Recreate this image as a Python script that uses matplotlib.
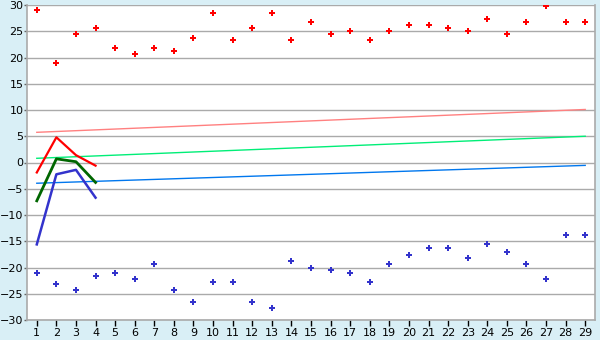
import numpy as np
import matplotlib.pyplot as plt

x = np.arange(1, 30)
x_labels = [str(i) for i in x]

upper_pts = [29.0, 18.9, 24.4, 25.6, 21.75, 20.6, 21.75, 21.2, 23.8,
             28.4, 23.3, 25.6, 28.4, 23.3, 26.7, 24.4, 25.0, 23.3, 25.0,
             26.1, 26.1, 25.6, 25.0, 27.3, 24.4, 26.7, 29.9, 26.7, 26.7]
lower_pts = [-21.1, -23.2, -24.35, -21.7, -21.1, -22.25, -19.4, -24.35, -26.6,
             -22.8, -22.8, -26.6, -27.8, -18.8, -20.0, -20.5, -21.1, -22.8, -19.4,
             -17.7, -16.2, -16.2, -18.25, -15.6, -17.1, -19.4, -22.25, -13.9, -13.9]

# first four periods
short_x = [1, 2, 3, 4]
red_line = [-1.9, 4.8, 1.4, -0.6]
green_line = [-7.3, 0.7, 0.15, -3.8]
blue_line = [-15.6, -2.25, -1.4, -6.7]

# trend lines (start at x=1, end at x=29)
trend_x = [1, 29]
pink_trend = [5.75, 10.1]
lime_trend = [0.8, 5.0]
sky_trend = [-3.95, -0.55]

bg = '#d9eff6'
fig = plt.figure(figsize=(6, 3.4), dpi=100, facecolor=bg)
ax = fig.add_axes([27 / 600, 1 - 320 / 340, 568 / 600, 315 / 340])
ax.set_facecolor('white')

ax.set_xlim(0.5, 29.5)
ax.set_ylim(-30, 30)
ax.set_yticks(np.arange(-30, 31, 5))
ax.set_xticks(x)
ax.set_xticklabels(x_labels)
ax.grid(axis='y', color='#aaaaaa', linewidth=1)
ax.set_axisbelow(True)

for side in ['left', 'bottom', 'right', 'top']:
    ax.spines[side].set_color('#aaaaaa')
    ax.spines[side].set_linewidth(1.2)
ax.spines['top'].set_visible(False)

ax.tick_params(axis='x', length=4, width=1, color='black', labelsize=8, pad=2)
ax.tick_params(axis='y', length=2, width=1, color='#666666', labelsize=8, pad=0.5)

ax.plot(trend_x, pink_trend, color='#ff8080', linewidth=1)
ax.plot(trend_x, lime_trend, color='#00ee77', linewidth=1)
ax.plot(trend_x, sky_trend, color='#0077ee', linewidth=1)

ax.plot(short_x, red_line, color='#ff0000', linewidth=1.6)
ax.plot(short_x, green_line, color='#006600', linewidth=2)
ax.plot(short_x, blue_line, color='#3333cc', linewidth=1.8)

ax.plot(x, upper_pts, linestyle='none', marker='P', markersize=5,
        color='#ff0000', markeredgewidth=0)
ax.plot(x, lower_pts, linestyle='none', marker='P', markersize=5,
        color='#3333cc', markeredgewidth=0)

fig.savefig('out.png', dpi=100, facecolor=bg)
